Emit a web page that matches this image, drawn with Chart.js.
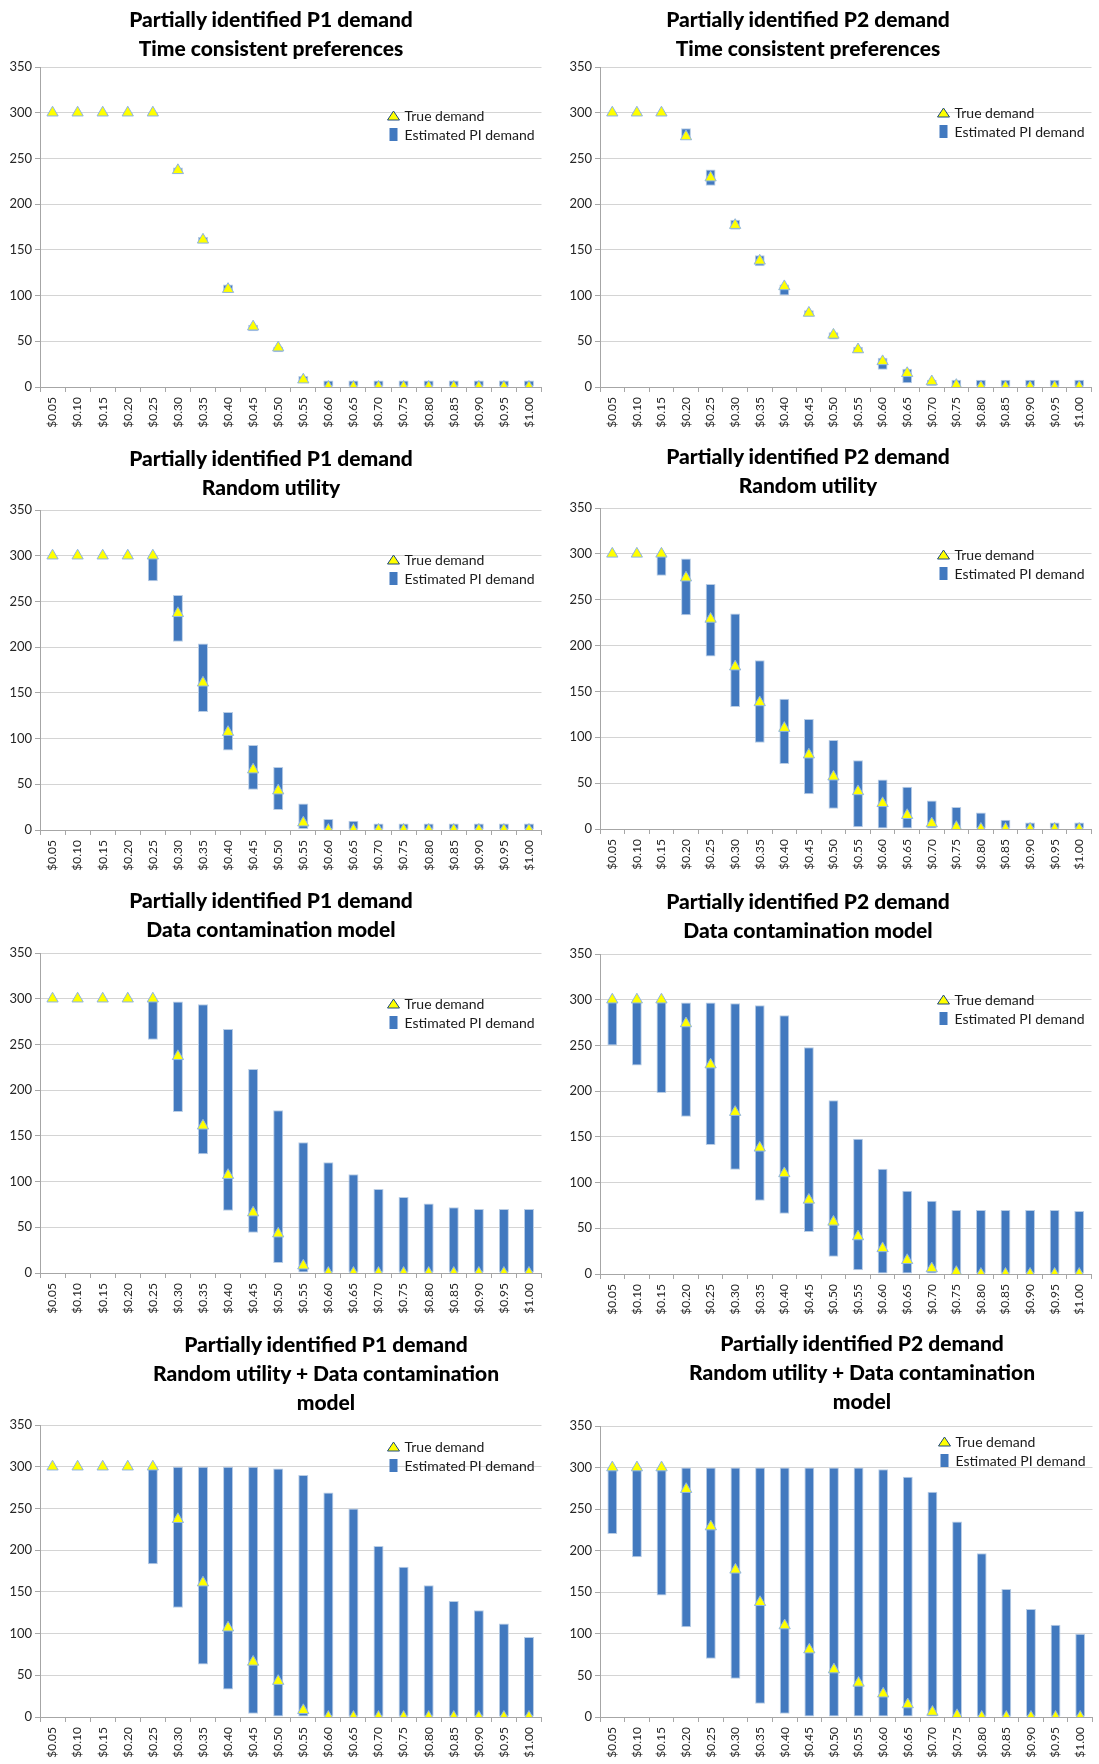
<!DOCTYPE html>
<html>
<head>
<meta charset="utf-8">
<script src="https://cdn.jsdelivr.net/npm/chart.js@4.4.1/dist/chart.umd.min.js"></script>
<style>
  html, body { margin: 0; padding: 0; background: #fff; }
  #page { position: relative; width: 1099px; height: 1764px; background: #fff; overflow: hidden; }
  .panel { position: absolute; }
  .panel canvas { position: absolute; left: 0; top: 0; }
  .title {
    position: absolute; width: 520px; text-align: center; white-space: pre-line;
    font-family: Lato, "Open Sans", sans-serif; font-weight: 900; font-size: 21px;
    line-height: 29px; color: #000;
  }
</style>
</head>
<body>
<div id="page"></div>
<script>
const prices = ['$0.05', '$0.10', '$0.15', '$0.20', '$0.25', '$0.30', '$0.35', '$0.40', '$0.45', '$0.50',
  '$0.55', '$0.60', '$0.65', '$0.70', '$0.75', '$0.80', '$0.85', '$0.90', '$0.95', '$1.00']
const yTicks = [0, 50, 100, 150, 200, 250, 300, 350]

// true demand (triangles)
const trueP1 = [300, 300, 300, 300, 300, 237, 161, 107, 66, 43, 8, 0, 0, 0, 0, 0, 0, 0, 0, 0]
const trueP2 = [300, 300, 300, 274, 229, 177, 138, 110, 81, 57, 41, 28, 15, 6, 2, 0, 0, 0, 0, 0]

// estimated partially identified demand, lower / upper bound per price
const p1ConsistentLow = [299, 299, 299, 299, 297, 233, 157, 104, 61, 38, 6, 0, 0, 0, 0, 0, 0, 0, 0, 0]
const p1ConsistentHigh = [300, 300, 300, 300, 300, 240, 164, 112, 68, 44, 12, 7, 7, 7, 7, 7, 7, 7, 7, 7]
const p2ConsistentLow = [299, 299, 296, 271, 220, 172, 132, 100, 77, 52, 37, 19, 4, 1, 0, 0, 0, 0, 0, 0]
const p2ConsistentHigh = [300, 300, 300, 283, 238, 183, 144, 112, 84, 60, 44, 32, 20, 8, 8, 8, 8, 8, 8, 8]
const p1RandomLow = [299, 299, 299, 299, 272, 206, 129, 87, 44, 22, 1, 0, 0, 0, 0, 0, 0, 0, 0, 0]
const p1RandomHigh = [300, 300, 300, 300, 300, 257, 204, 129, 93, 69, 29, 12, 10, 7, 7, 7, 7, 7, 7, 7]
const p2RandomLow = [299, 299, 276, 233, 188, 133, 94, 71, 38, 22, 2, 0, 0, 0, 0, 0, 0, 0, 0, 0]
const p2RandomHigh = [300, 300, 300, 295, 267, 235, 184, 142, 120, 97, 75, 54, 46, 31, 24, 18, 10, 7, 7, 7]
const p1ContamLow = [299, 299, 299, 299, 255, 176, 130, 68, 44, 11, 0, 0, 0, 0, 0, 0, 0, 0, 0, 0]
const p1ContamHigh = [300, 300, 300, 300, 298, 297, 294, 267, 223, 178, 143, 121, 108, 92, 83, 76, 72, 70, 70, 70]
const p2ContamLow = [250, 228, 198, 172, 141, 114, 80, 66, 46, 19, 4, 0, 0, 0, 0, 0, 0, 0, 0, 0]
const p2ContamHigh = [298, 298, 298, 297, 297, 296, 294, 283, 248, 190, 148, 115, 91, 80, 70, 70, 70, 70, 70, 69]
const p1BothLow = [299, 299, 299, 299, 183, 131, 63, 33, 4, 0, 0, 0, 0, 0, 0, 0, 0, 0, 0, 0]
const p1BothHigh = [300, 300, 300, 300, 300, 300, 300, 300, 300, 298, 290, 269, 250, 205, 180, 158, 139, 128, 112, 96]
const p2BothLow = [220, 192, 146, 108, 70, 46, 16, 4, 0, 0, 0, 0, 0, 0, 0, 0, 0, 0, 0, 0]
const p2BothHigh = [300, 300, 300, 300, 300, 300, 300, 300, 300, 300, 300, 298, 289, 271, 235, 197, 154, 130, 111, 100]

const seriesLabels = ['True demand', 'Estimated PI demand']

const charts = [
  { title: 'Partially identified P1 demand\nTime consistent preferences', truth: trueP1, low: p1ConsistentLow, high: p1ConsistentHigh },
  { title: 'Partially identified P2 demand\nTime consistent preferences', truth: trueP2, low: p2ConsistentLow, high: p2ConsistentHigh },
  { title: 'Partially identified P1 demand\nRandom utility', truth: trueP1, low: p1RandomLow, high: p1RandomHigh },
  { title: 'Partially identified P2 demand\nRandom utility', truth: trueP2, low: p2RandomLow, high: p2RandomHigh },
  { title: 'Partially identified P1 demand\nData contamination model', truth: trueP1, low: p1ContamLow, high: p1ContamHigh },
  { title: 'Partially identified P2 demand\nData contamination model', truth: trueP2, low: p2ContamLow, high: p2ContamHigh },
  { title: 'Partially identified P1 demand\nRandom utility + Data contamination\nmodel', truth: trueP1, low: p1BothLow, high: p1BothHigh },
  { title: 'Partially identified P2 demand\nRandom utility + Data contamination\nmodel', truth: trueP2, low: p2BothLow, high: p2BothHigh },
]

// panel boxes in page pixels
const layout = [
  { left: 0, top: 0, width: 549, height: 440, plotLeft: 40, plotRight: 542, plotTop: 67, plotBottom: 387, titleTop: 4, titleX: 271, legendY: 49 },
  { left: 549, top: 0, width: 550, height: 440, plotLeft: 600, plotRight: 1100, plotTop: 67, plotBottom: 387, titleTop: 4, titleX: 808, legendY: 46 },
  { left: 0, top: 440, width: 549, height: 440, plotLeft: 40, plotRight: 542, plotTop: 510, plotBottom: 830, titleTop: 443, titleX: 271, legendY: 50 },
  { left: 549, top: 440, width: 550, height: 440, plotLeft: 600, plotRight: 1100, plotTop: 508, plotBottom: 829, titleTop: 441, titleX: 808, legendY: 47 },
  { left: 0, top: 880, width: 549, height: 445, plotLeft: 40, plotRight: 542, plotTop: 953, plotBottom: 1273, titleTop: 885, titleX: 271, legendY: 51 },
  { left: 549, top: 880, width: 550, height: 445, plotLeft: 600, plotRight: 1100, plotTop: 954, plotBottom: 1274, titleTop: 886, titleX: 808, legendY: 46 },
  { left: 0, top: 1325, width: 549, height: 439, plotLeft: 40, plotRight: 542, plotTop: 1425, plotBottom: 1717, titleTop: 1329, titleX: 326, legendY: 22 },
  { left: 549, top: 1325, width: 551, height: 439, plotLeft: 600, plotRight: 1100, plotTop: 1426, plotBottom: 1717, titleTop: 1328, titleX: 862, legendY: 16 },
]

const colors = {
  bar: '#4279bf',
  barEdge: '#b9cde5',
  tri: '#ffff00',
  triEdge: '#8eb4e3',
  legendTriEdge: '#1f497d',
  axis: '#a6a6a6',
  grid: '#d4d4d4',
  text: '#262626',
}
const fontFamily = 'Lato, "Open Sans", sans-serif'

// legend drawn inside the plot, top right corner
const insideLegend = {
  id: 'insideLegend',
  afterDraw(chart, args, opts) {
    const { ctx, chartArea } = chart
    const mx = chartArea.right - opts.fromRight
    let y = chartArea.top + opts.fromTop
    ctx.save()
    ctx.font = '14px ' + fontFamily
    ctx.textBaseline = 'middle'
    ctx.textAlign = 'left'
    chart.data.datasets.forEach((ds) => {
      if (ds.type === 'line') {
        ctx.beginPath()
        ctx.moveTo(mx - 6, y + 4)
        ctx.lineTo(mx + 6, y + 4)
        ctx.lineTo(mx, y - 5)
        ctx.closePath()
        ctx.fillStyle = colors.tri
        ctx.fill()
        ctx.lineWidth = 1
        ctx.strokeStyle = colors.legendTriEdge
        ctx.stroke()
      } else {
        ctx.fillStyle = colors.bar
        ctx.fillRect(mx - 4, y - 7, 8, 13)
      }
      ctx.fillStyle = '#1a1a1a'
      ctx.fillText(ds.label, mx + 11, y)
      y += opts.rowGap
    })
    ctx.restore()
  },
}

const page = document.getElementById('page')

charts.forEach((c, i) => {
  const p = layout[i]
  const panel = document.createElement('div')
  panel.className = 'panel'
  panel.style.left = p.left + 'px'
  panel.style.top = p.top + 'px'
  panel.style.width = p.width + 'px'
  panel.style.height = p.height + 'px'

  const canvas = document.createElement('canvas')
  canvas.width = p.width
  canvas.height = p.height
  panel.appendChild(canvas)

  const title = document.createElement('div')
  title.className = 'title'
  title.textContent = c.title
  title.style.left = (p.titleX - p.left - 260) + 'px'
  title.style.top = (p.titleTop - p.top) + 'px'
  panel.appendChild(title)
  page.appendChild(panel)

  new Chart(canvas, {
    type: 'bar',
    data: {
      labels: prices,
      datasets: [
        {
          type: 'line',
          label: seriesLabels[0],
          data: c.truth,
          showLine: false,
          pointStyle: 'triangle',
          pointRadius: 6.5,
          pointHoverRadius: 6.5,
          pointBackgroundColor: colors.tri,
          pointBorderColor: colors.triEdge,
          pointBorderWidth: 1,
          order: 0,
        },
        {
          type: 'bar',
          label: seriesLabels[1],
          data: c.low.map((lo, k) => [lo, c.high[k]]),
          backgroundColor: colors.bar,
          borderColor: colors.barEdge,
          borderWidth: 1,
          borderSkipped: false,
          barPercentage: 0.4,
          categoryPercentage: 1,
          order: 1,
        },
      ],
    },
    plugins: [insideLegend],
    options: {
      responsive: false,
      animation: false,
      layout: {
        padding: { top: p.plotTop - p.top, right: p.left + p.width - p.plotRight, bottom: 0, left: 0 },
      },
      plugins: {
        legend: { display: false },
        title: { display: false },
        tooltip: { enabled: false },
        insideLegend: { fromRight: 148, fromTop: p.legendY, rowGap: 19 },
      },
      scales: {
        x: {
          offset: true,
          grid: { offset: true, drawOnChartArea: false, drawTicks: true, tickLength: 5, tickColor: colors.axis },
          border: { color: colors.axis, width: 1 },
          ticks: {
            autoSkip: false, minRotation: 90, maxRotation: 90, padding: 5,
            color: colors.text, font: { family: fontFamily, size: 12 },
          },
          afterFit: (s) => { s.height = p.top + p.height - p.plotBottom },
        },
        y: {
          min: 0,
          max: 350,
          afterBuildTicks: (s) => { s.ticks = yTicks.map((v) => ({ value: v })) },
          grid: {
            color: colors.grid, borderDash: [4, 3], tickLength: 5,
            tickColor: colors.axis, tickBorderDash: [],
          },
          border: { color: colors.axis, width: 1 },
          ticks: { padding: 3, color: colors.text, font: { family: fontFamily, size: 13 } },
          afterFit: (s) => { s.width = p.plotLeft - p.left },
        },
      },
    },
  })
})
</script>
</body>
</html>
